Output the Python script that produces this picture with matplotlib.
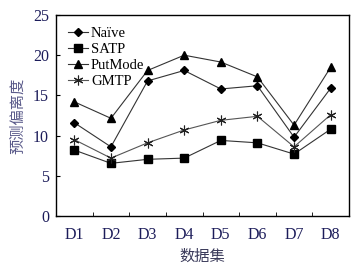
import numpy as np
import matplotlib
matplotlib.use("Agg")
import matplotlib.pyplot as plt

datasets = ["D1", "D2", "D3", "D4", "D5", "D6", "D7", "D8"]
naive = [11.6, 8.6, 16.8, 18.1, 15.8, 16.2, 9.8, 15.9]
satp = [8.2, 6.55, 7.05, 7.2, 9.4, 9.1, 7.7, 10.8]
putmode = [14.2, 12.15, 18.1, 20.0, 19.15, 17.3, 11.3, 18.5]
gmtp = [9.5, 7.2, 9.1, 10.7, 11.9, 12.4, 8.6, 12.6]

serif = ["Liberation Serif", "DejaVu Serif"]
cjk = ["Noto Sans CJK SC", "DejaVu Sans"]
navy = "#1c1c5a"

fig = plt.figure(figsize=(3.55, 2.69), dpi=100)
ax = fig.add_axes([56/355, 1-216/269, 293/355, 201/269])

x = np.arange(len(datasets))
lc = "#333333"
ax.plot(x, naive, color=lc, lw=0.8, marker="D", ms=4.5, mfc="k", mec="k", label="Naïve")
ax.plot(x, satp, color=lc, lw=0.8, marker="s", ms=6, mfc="k", mec="k", label="SATP")
ax.plot(x, putmode, color=lc, lw=0.8, marker="^", ms=6, mfc="k", mec="k", label="PutMode")
ax.plot(x, gmtp, color="#555555", lw=0.8, marker=(6, 2, 0), ms=7, mec="#222222", mew=0.8, label="GMTP")

ax.set_xlim(-0.5, 7.5)
ax.set_ylim(0, 25)
ax.set_yticks([0, 5, 10, 15, 20, 25])
ax.set_xticks(x)
ax.set_xticks(np.arange(0.5, 7.5, 1), minor=True)
ax.set_xticklabels(datasets, family=serif, fontsize=11.5, color=navy)
for t in ax.get_yticklabels():
    t.set_family(serif)
    t.set_fontsize(11.5)
    t.set_color(navy)
ax.tick_params(axis="x", which="major", length=0, pad=8)
ax.tick_params(axis="x", which="minor", direction="in", length=3)
ax.tick_params(axis="y", direction="in", length=3, pad=5)
for s in ax.spines.values():
    s.set_linewidth(1.0)

ax.set_xlabel("数据集", family=cjk, fontsize=11, color="#3a3a5a", labelpad=3)
ax.set_ylabel("预测偏离度", family=cjk, fontsize=11, color="#5a5a8a", labelpad=5)

leg = ax.legend(loc="upper left", frameon=False, prop={"family": serif, "size": 10.5},
                handlelength=1.4, handletextpad=0.2, labelspacing=0.2,
                borderaxespad=0.5, borderpad=0.3)

fig.savefig("out.png", dpi=100)
